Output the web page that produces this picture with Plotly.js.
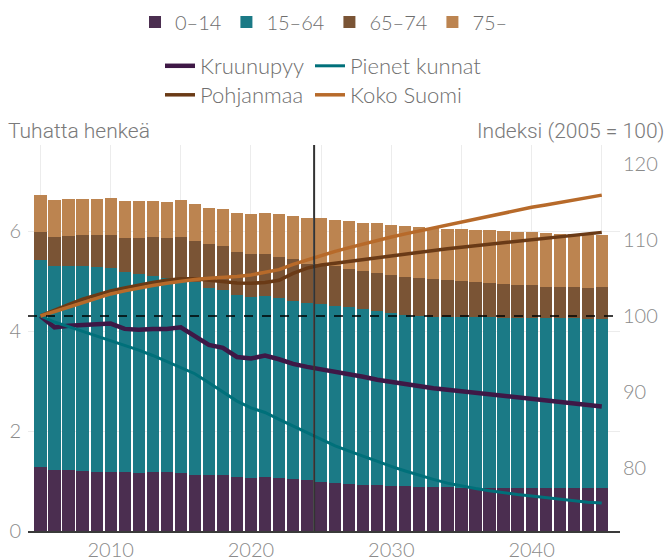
<!DOCTYPE html>
<html><head><meta charset="utf-8">
<script src="https://cdn.plot.ly/plotly-3.0.1.min.js"></script>
<style>html,body{margin:0;padding:0;background:#fff;}#chart{width:666px;height:559px;}</style>
</head><body><div id="chart"></div>
<script>
const years = [2005,2006,2007,2008,2009,2010,2011,2012,2013,2014,2015,2016,2017,2018,2019,2020,2021,2022,2023,2024,2025,2026,2027,2028,2029,2030,2031,2032,2033,2034,2035,2036,2037,2038,2039,2040,2041,2042,2043,2044,2045];
// Population by age group, thousands
const age0_14 = [1.29,1.23,1.23,1.20,1.18,1.18,1.18,1.16,1.18,1.18,1.16,1.12,1.12,1.12,1.08,1.06,1.08,1.06,1.04,1.02,0.98,0.96,0.94,0.92,0.92,0.90,0.90,0.89,0.89,0.88,0.87,0.87,0.86,0.86,0.86,0.87,0.87,0.87,0.87,0.87,0.87];
const age15_64 = [4.13,4.08,4.08,4.11,4.10,4.09,4.01,3.98,3.93,3.89,3.88,3.86,3.75,3.71,3.64,3.62,3.63,3.61,3.56,3.54,3.56,3.55,3.54,3.52,3.48,3.46,3.42,3.42,3.40,3.41,3.41,3.41,3.42,3.41,3.41,3.40,3.39,3.39,3.39,3.38,3.38];
const age65_74 = [0.57,0.57,0.59,0.61,0.64,0.65,0.68,0.72,0.77,0.80,0.84,0.82,0.88,0.88,0.87,0.87,0.84,0.82,0.85,0.79,0.80,0.79,0.77,0.77,0.77,0.77,0.77,0.76,0.76,0.74,0.73,0.71,0.69,0.68,0.66,0.66,0.63,0.63,0.63,0.62,0.64];
const age75 = [0.73,0.74,0.74,0.72,0.72,0.75,0.74,0.74,0.72,0.71,0.74,0.74,0.72,0.73,0.78,0.80,0.82,0.86,0.85,0.92,0.93,0.93,0.95,0.96,1.00,1.00,1.01,1.01,1.02,1.02,1.03,1.03,1.05,1.05,1.06,1.06,1.08,1.06,1.06,1.06,1.03];
// Index 2005 = 100
const kruunupyy = [100,98.5,98.7,98.8,98.8,99.0,98.3,98.2,98.3,98.3,98.5,97.4,96.2,95.8,94.6,94.4,94.8,94.3,93.7,93.3,93.0,92.7,92.4,92.0,91.6,91.3,91.0,90.75,90.5,90.3,90.1,89.9,89.7,89.5,89.3,89.1,88.9,88.7,88.5,88.3,88.1];
const pienetKunnat = [100,99.2,98.6,98.0,97.4,96.8,96.1,95.5,94.8,94.0,93.2,92.4,91.2,90.0,88.8,87.9,87.3,86.4,85.5,84.6,83.7,82.9,82.2,81.5,80.8,80.2,79.6,79.0,78.5,78.0,77.6,77.3,77.0,76.7,76.5,76.3,76.1,75.9,75.7,75.5,75.4];
const pohjanmaa = [100,100.8,101.5,102.2,102.8,103.3,103.7,104.1,104.4,104.7,104.9,104.9,104.7,104.5,104.35,104.3,104.4,104.7,105.6,106.3,106.7,106.95,107.2,107.45,107.7,107.9,108.15,108.4,108.6,108.85,109.05,109.25,109.45,109.6,109.8,110.0,110.2,110.4,110.6,110.8,111.0];
const kokoSuomi = [100,100.6,101.2,101.8,102.4,102.9,103.3,103.7,104.0,104.3,104.6,104.8,104.95,105.05,105.2,105.4,105.7,106.1,106.8,107.4,108.0,108.5,109.0,109.5,110.0,110.4,110.8,111.2,111.6,112.0,112.4,112.8,113.2,113.6,114.0,114.3,114.6,114.9,115.2,115.5,115.9];
const barNames = ['0–14','15–64','65–74','75–'];
const lineNames = ['Kruunupyy','Pienet kunnat','Pohjanmaa','Koko Suomi'];
const xTickVals = [2010,2020,2030,2040];
const leftTitle = 'Tuhatta henkeä';
const rightTitle = 'Indeksi (2005 = 100)';
const markerYear = 2024.5;

const barColors = ['#4b2e50','#1b7a86','#7a5435','#bc8450'];
const lineColors = ['#3e1846','#00707a','#6a3a16','#b76a2a'];
const barData = [age0_14, age15_64, age65_74, age75];
const lineData = [kruunupyy, pienetKunnat, pohjanmaa, kokoSuomi];
const lineWidths = [4.5, 3, 3.5, 3.5];
const lineLegends = ['legend2','legend3','legend4','legend5'];

const traces = [];
barData.forEach((d,i)=>traces.push({type:'bar', x:years, y:d, name:barNames[i], marker:{color:barColors[i]}, legend:'legend', hoverinfo:'skip'}));
lineData.forEach((d,i)=>traces.push({type:'scatter', mode:'lines', x:years, y:d, yaxis:'y2', name:lineNames[i], line:{color:lineColors[i], width:lineWidths[i]}, legend:lineLegends[i]}));

const tickFont = {family:'Lato, sans-serif', size:20, color:'#8a8a8a', weight:300};
const legFont = {family:'Lato, sans-serif', size:20, color:'#6e6e6e', weight:300};
const legFont2 = {family:'Lato, sans-serif', size:22, color:'#6e6e6e', weight:300};
const titleFont = {family:'Roboto, sans-serif', size:21, color:'#7a7a7a', weight:300};
function leg(x, y, extra){
  return Object.assign({orientation:'h', xref:'container', yref:'container', x:x, y:y, xanchor:'left', yanchor:'middle', font:legFont2, bgcolor:'rgba(0,0,0,0)', traceorder:'normal'}, extra||{});
}
const layout = {
  width:666, height:559,
  margin:{l:28, r:46, t:145, b:28, autoexpand:false},
  paper_bgcolor:'#fff', plot_bgcolor:'#fff',
  barmode:'stack', bargap:0.13,
  showlegend:true,
  xaxis:{range:[2004.11,2046.3], tickvals:xTickVals, ticks:'', tickfont:tickFont, showgrid:true, gridcolor:'#ececec', gridwidth:1,
    minor:{tickvals:[2005,2015,2025,2035,2045], showgrid:true, gridcolor:'#ececec', gridwidth:1},
    showline:true, linecolor:'#3a3a3a', linewidth:2, zeroline:false, automargin:false},
  yaxis:{range:[0,7.72], dtick:2, tick0:0, tickfont:tickFont, showgrid:true, gridcolor:'#ececec', zeroline:false, ticks:'', ticklabelstandoff:6, automargin:false},
  yaxis2:{range:[71.7,122.5], dtick:10, tick0:80, overlaying:'y', side:'right', tickfont:tickFont, showgrid:false, zeroline:false, ticks:'', ticklabelstandoff:2, automargin:false},
  legend: leg(0.4865, 1-22/559, {xanchor:'center', font:legFont, tracegroupgap:0}),
  legend2: leg(160/666, 1-66/559),
  legend3: leg(310/666, 1-66/559),
  legend4: leg(160/666, 1-95/559),
  legend5: leg(310/666, 1-95/559),
  shapes:[
    {type:'line', xref:'paper', yref:'y2', x0:0, x1:0.997, y0:100, y1:100, line:{color:'#000', width:1.5, dash:'dash'}, layer:'above'},
    {type:'line', xref:'x', yref:'paper', x0:markerYear, x1:markerYear, y0:0, y1:1, line:{color:'#333', width:2}, layer:'above'}
  ],
  annotations:[
    {text:leftTitle, xref:'paper', yref:'paper', x:-0.038, y:1.035, xanchor:'left', yanchor:'middle', showarrow:false, font:titleFont},
    {text:rightTitle, xref:'paper', yref:'paper', x:1.077, y:1.035, xanchor:'right', yanchor:'middle', showarrow:false, font:titleFont}
  ]
};
Plotly.newPlot('chart', traces, layout, {displayModeBar:false, staticPlot:true});
</script></body></html>
